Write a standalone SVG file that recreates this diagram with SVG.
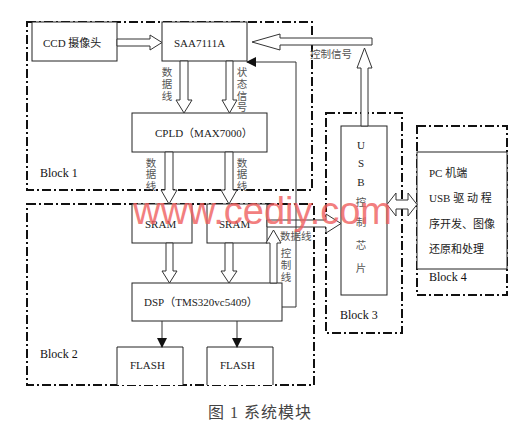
<svg xmlns="http://www.w3.org/2000/svg" width="531" height="421" viewBox="0 0 531 421">
<style>
.blk{fill:none;stroke:#111;stroke-width:2;stroke-dasharray:9 3 2 3}
.box{fill:#fff;stroke:#222;stroke-width:1}
.ha{fill:#fff;stroke:#333;stroke-width:1}
.ln{fill:none;stroke:#333;stroke-width:1}
.t{font-family:"Liberation Serif","Noto Sans CJK SC",serif;font-size:11px;fill:#222}
.lb{font-family:"Liberation Serif","Noto Sans CJK SC",serif;font-size:10.5px;fill:#555}
.bl{font-family:"Liberation Serif",serif;font-size:12px;fill:#111}
.wm{font-family:"Liberation Sans",sans-serif;font-size:38px;fill:#f06060;opacity:0.8}
</style>
<defs>
<marker id="fa" markerWidth="10" markerHeight="10" refX="9" refY="5" orient="auto" markerUnits="userSpaceOnUse">
<path d="M0,0 L10,5 L0,10 Z" fill="#111"/>
</marker>
</defs>
<rect width="531" height="421" fill="#fff"/>
<g id="blocks">
<rect id="block1" class="blk" x="27" y="22" width="285" height="168"/>
<rect id="block2" class="blk" x="27" y="204" width="287" height="181"/>
<rect id="block3" class="blk" x="326" y="113" width="76" height="220"/>
<rect id="block4" class="blk" x="417" y="126" width="90" height="169"/>
<text class="bl" x="40" y="177">Block 1</text>
<text class="bl" x="40" y="358">Block 2</text>
<text class="bl" x="340" y="319">Block 3</text>
<text class="bl" x="429" y="281">Block 4</text>
</g>
<g id="ccd"><rect class="box" x="32" y="22" width="85" height="39"/><text class="t" x="43" y="47">CCD 摄像头</text></g>
<g id="saa"><rect class="box" x="162" y="22" width="85" height="39"/><text class="t" x="174" y="47">SAA7111A</text></g>
<g id="cpld"><rect class="box" x="132" y="113" width="135" height="39"/><text class="t" x="155" y="137">CPLD（MAX7000）</text></g>
<g id="sram1"><rect class="box" x="132" y="204" width="60" height="39"/><text class="t" x="145" y="228">SRAM</text></g>
<g id="sram2"><rect class="box" x="207" y="204" width="60" height="39"/><text class="t" x="219" y="228">SRAM</text></g>
<g id="dsp"><rect class="box" x="132" y="283" width="150" height="38"/><text class="t" x="144" y="306">DSP（TMS320vc5409）</text></g>
<g id="flash1"><path class="box" d="M117,385 V347 H183 V385"/><text class="t" x="130" y="369">FLASH</text></g>
<g id="flash2"><path class="box" d="M207,385 V347 H273 V385"/><text class="t" x="220" y="369">FLASH</text></g>
<g id="usb"><rect class="box" x="341" y="126" width="46" height="169"/>
<g class="t" text-anchor="middle"><text x="361" y="149">U</text><text x="361" y="167">S</text><text x="361" y="186">B</text></g>
<g class="lb" text-anchor="middle"><text x="361" y="206">控</text><text x="361" y="226">制</text><text x="361" y="249">芯</text><text x="361" y="272">片</text></g>
</g>
<g id="pc"><rect class="box" x="417" y="152" width="90" height="117"/>
<text class="t" x="429" y="177">PC 机端</text>
<text class="t" x="429" y="202">USB  驱 动 程</text>
<text class="t" x="429" y="228">序开发、图像</text>
<text class="t" x="429" y="253">还原和处理</text>
</g>
<g id="connectors">
<polygon class="ha" points="117,39 150,39 150,35 162,42.5 150,50 150,46 117,46"/>
<polygon class="ha" points="372,38 280,38 280,34 252,42 280,50 280,45 372,45"/>
<polygon class="ha" points="361,126 361,68 357,68 364.5,48 372,68 368,68 368,126"/>
<polygon class="ha" points="180,61 188,61 188,100 192,100 184,113 176,100 180,100"/>
<polygon class="ha" points="226,61 233,61 233,100 237,100 229.5,113 222,100 226,100"/>
<polygon class="ha" points="165,152 173,152 173,190 177,190 169,204 161,190 165,190"/>
<polygon class="ha" points="225,152 233,152 233,190 237,190 229,204 221,190 225,190"/>
<polygon class="ha" points="166,243 173,243 173,271 177,271 169.5,283 162,271 166,271"/>
<polygon class="ha" points="225,243 233,243 233,271 237,271 229,283 221,271 225,271"/>
<polygon class="ha" points="270,283 270,243 266,243 273.5,230 281,243 277,243 277,283"/>
<polygon class="ha" points="267,220 326,220 326,214 341,223.5 326,233 326,227 267,227"/>
<polygon class="ha" points="387,204.5 396,193 396,200 408,200 408,193 417,204.5 408,216 408,209 396,209 396,216"/>
<polyline class="ln" points="282,307 296,307 296,62 247,62" marker-end="url(#fa)"/>
<line class="ln" x1="162" y1="321" x2="162" y2="347" marker-end="url(#fa)"/>
<line class="ln" x1="237" y1="321" x2="237" y2="347" marker-end="url(#fa)"/>
<g class="lb" text-anchor="middle">
<text x="167" y="76">数</text><text x="167" y="88">据</text><text x="167" y="100">线</text>
<text x="242" y="76">状</text><text x="242" y="88">态</text><text x="242" y="100">信</text><text x="242" y="111">号</text>
<text x="151" y="167">数</text><text x="151" y="178">据</text><text x="151" y="190">线</text>
<text x="242" y="167">数</text><text x="242" y="178">据</text><text x="242" y="190">线</text>
<text x="286" y="257">控</text><text x="286" y="269">制</text><text x="286" y="281">线</text>
</g>
<text class="lb" x="280" y="240">数据线</text>
<text class="lb" x="310" y="58">控制信号</text>
</g>
<text class="wm" x="133" y="224">www.cediy.com</text>
<text x="208" y="418" style="font-family:'Liberation Serif','Noto Sans CJK SC',serif;font-size:16px;letter-spacing:1px;fill:#444">图 1  系统模块</text>
</svg>
